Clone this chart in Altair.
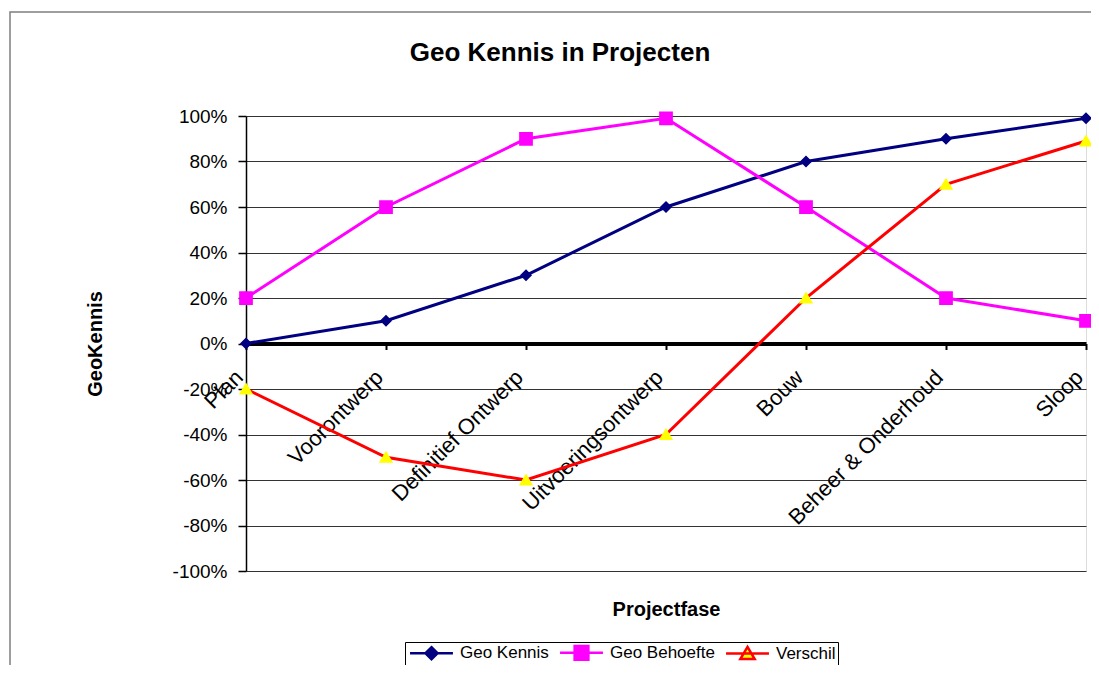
import altair as alt
import pandas as pd

# ---- data ----
phases = ["Plan", "Voorontwerp", "Definitief Ontwerp", "Uitvoeringsontwerp",
          "Bouw", "Beheer & Onderhoud", "Sloop"]
series = ["Geo Kennis", "Geo Behoefte", "Verschil"]
geo_kennis = [0, 10, 30, 60, 80, 90, 99]
geo_behoefte = [20, 60, 90, 99, 60, 20, 10]
verschil = [-20, -50, -60, -40, 20, 70, 89]
y_ticks = [-100, -80, -60, -40, -20, 0, 20, 40, 60, 80, 100]

rows = []
for s, vals in zip(series, [geo_kennis, geo_behoefte, verschil]):
    for p, v in zip(phases, vals):
        rows.append({"fase": p, "serie": s, "waarde": v})
df = pd.DataFrame(rows)

# ---- styling ----
W, H = 840, 455
FONT = "Liberation Sans"
line_colors = ["#000080", "#FF00FF", "#FF0000"]
marker_colors = ["#000080", "#FF00FF", "#FFFF00"]
shapes = [
    "M-3.9,0H3.9M0,-1.1L1.1,0L0,1.1L-1.1,0Z",
    "M-3.9,0H3.9M-1.25,-1.25H1.25V1.25H-1.25Z",
    "M-3.9,0H3.9M0,-1.2L1.3,1.0H-1.3Z",
]

legend = alt.Legend(
    orient="none", legendX=159, legendY=526, direction="horizontal",
    title=None, strokeColor="black", padding=2,
    labelFont=FONT, labelFontSize=17, labelColor="black",
    symbolSize=121, symbolStrokeWidth=2.5, symbolOffset=16,
    labelOffset=20, columnPadding=6,
)

x_enc = alt.X(
    "fase:N", sort=phases,
    scale=alt.Scale(type="point", padding=0),
    axis=alt.Axis(
        orient="bottom", offset=-H / 2, grid=False,
        domainColor="black", domainWidth=4,
        tickColor="black", tickSize=6, tickWidth=2,
        labelAngle=-45, labelAlign="right", labelBaseline="middle",
        labelFont=FONT, labelFontSize=22, labelColor="black",
        labelPadding=24, labelOffset=-7, labelOverlap=False, labelBound=False,
        labelLimit=0,
        title="Projectfase", titleFont=FONT, titleFontSize=20,
        titleFontWeight="bold", titleColor="black",
        titleY=H / 2 + 38, titleBaseline="middle",
    ),
)
y_enc = alt.Y(
    "waarde:Q",
    scale=alt.Scale(domain=[-100, 100], nice=False),
    axis=alt.Axis(
        values=y_ticks, labelExpr="datum.value + '%'",
        domainColor="black", domainWidth=1.5,
        tickColor="black", tickSize=8, tickWidth=1.5,
        gridColor="#333333", gridWidth=1,
        labelFont=FONT, labelFontSize=19, labelColor="black", labelPadding=11,
        title="GeoKennis", titleFont=FONT, titleFontSize=20,
        titleFontWeight="bold", titleColor="black",
        titleX=-151, titleY=H / 2, titleBaseline="middle",
    ),
)

base = alt.Chart(df)

lines = base.mark_line(strokeWidth=3).encode(
    x=x_enc, y=y_enc,
    stroke=alt.Stroke("serie:N", scale=alt.Scale(domain=series, range=line_colors),
                      legend=legend),
)
points = base.mark_point(filled=True, size=121, opacity=1).encode(
    x=x_enc, y=y_enc,
    fill=alt.Fill("serie:N", scale=alt.Scale(domain=series, range=marker_colors),
                  legend=legend),
    shape=alt.Shape("serie:N", scale=alt.Scale(domain=series, range=shapes),
                    legend=legend),
)

frame = alt.Chart(pd.DataFrame({"k": [0]})).mark_rect(
    fill=None, stroke="#7f7f7f", strokeWidth=1.5
).encode(
    x=alt.value(-236), x2=alt.value(W + 60),
    y=alt.value(-104), y2=alt.value(H + 200),
)

chart = alt.layer(frame, lines, points).properties(
    width=W, height=H,
    autosize=alt.AutoSizeParams(type="none"),
    padding={"left": 238, "top": 108, "right": 5, "bottom": 94},
    title=alt.TitleParams(
        "Geo Kennis in Projecten", font=FONT, fontSize=26, fontWeight="bold",
        color="black", anchor="middle", frame="group", dx=-106, offset=-55,
    ),
).configure_view(
    stroke="#808080", strokeWidth=1.5
).configure(background="white")

chart.save("out.html", embed_options={"renderer": "svg", "actions": False})
